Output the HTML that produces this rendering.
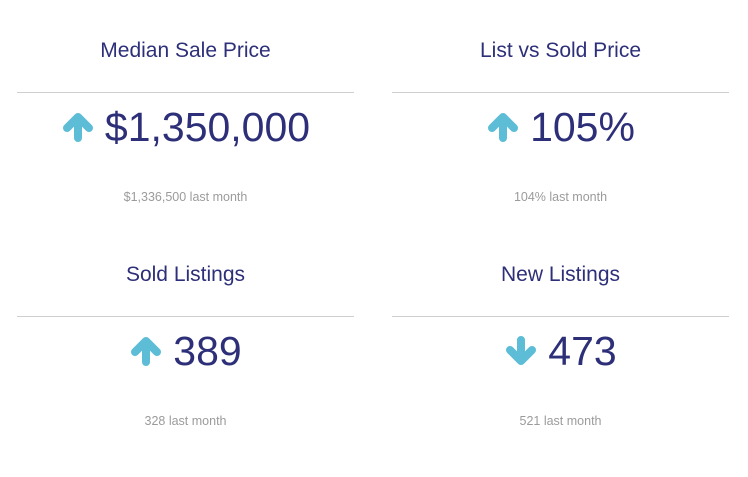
<!DOCTYPE html>
<html><head><meta charset="utf-8"><style>
body{margin:0;width:748px;height:477px;background:#fff;font-family:"Liberation Sans",sans-serif;position:relative;overflow:hidden}
.card{position:absolute;width:337px;height:200px}
.t{position:absolute;top:0;left:0;width:100%;text-align:center;font-size:21px;color:#2d2f78;line-height:26px}
.hr{position:absolute;top:54px;left:0;width:100%;height:1px;background:#cfcfcf}
.v{position:absolute;top:66px;left:0;width:100%;display:flex;justify-content:center;align-items:center;gap:10px;color:#2d2f78;font-size:41px;line-height:46px}
.v svg{width:34px;height:30px}
.s{position:absolute;left:0;width:100%;text-align:center;font-size:12.5px;color:#9b9b9b}
</style></head><body>
<div class="card" style="left:17px;top:38px">
<div class="t">Median Sale Price</div>
<div class="hr"></div>
<div class="v"><svg viewBox="0 0 34 30"><path d="M17 26V6M6 16L17 5L28 16" fill="none" stroke="#5dbdd6" stroke-width="8" stroke-linecap="round" stroke-linejoin="round"/></svg><span>$1,350,000</span></div>
<div class="s" style="top:152px">$1,336,500 last month</div>
</div>
<div class="card" style="left:392px;top:38px">
<div class="t">List vs Sold Price</div>
<div class="hr"></div>
<div class="v"><svg viewBox="0 0 34 30"><path d="M17 26V6M6 16L17 5L28 16" fill="none" stroke="#5dbdd6" stroke-width="8" stroke-linecap="round" stroke-linejoin="round"/></svg><span>105%</span></div>
<div class="s" style="top:152px">104% last month</div>
</div>
<div class="card" style="left:17px;top:262px">
<div class="t">Sold Listings</div>
<div class="hr"></div>
<div class="v"><svg viewBox="0 0 34 30"><path d="M17 26V6M6 16L17 5L28 16" fill="none" stroke="#5dbdd6" stroke-width="8" stroke-linecap="round" stroke-linejoin="round"/></svg><span>389</span></div>
<div class="s" style="top:152px">328 last month</div>
</div>
<div class="card" style="left:392px;top:262px">
<div class="t">New Listings</div>
<div class="hr"></div>
<div class="v"><svg viewBox="0 0 34 30"><path d="M17 4V24M6 14L17 25L28 14" fill="none" stroke="#5dbdd6" stroke-width="8" stroke-linecap="round" stroke-linejoin="round"/></svg><span>473</span></div>
<div class="s" style="top:152px">521 last month</div>
</div>
</body></html>
